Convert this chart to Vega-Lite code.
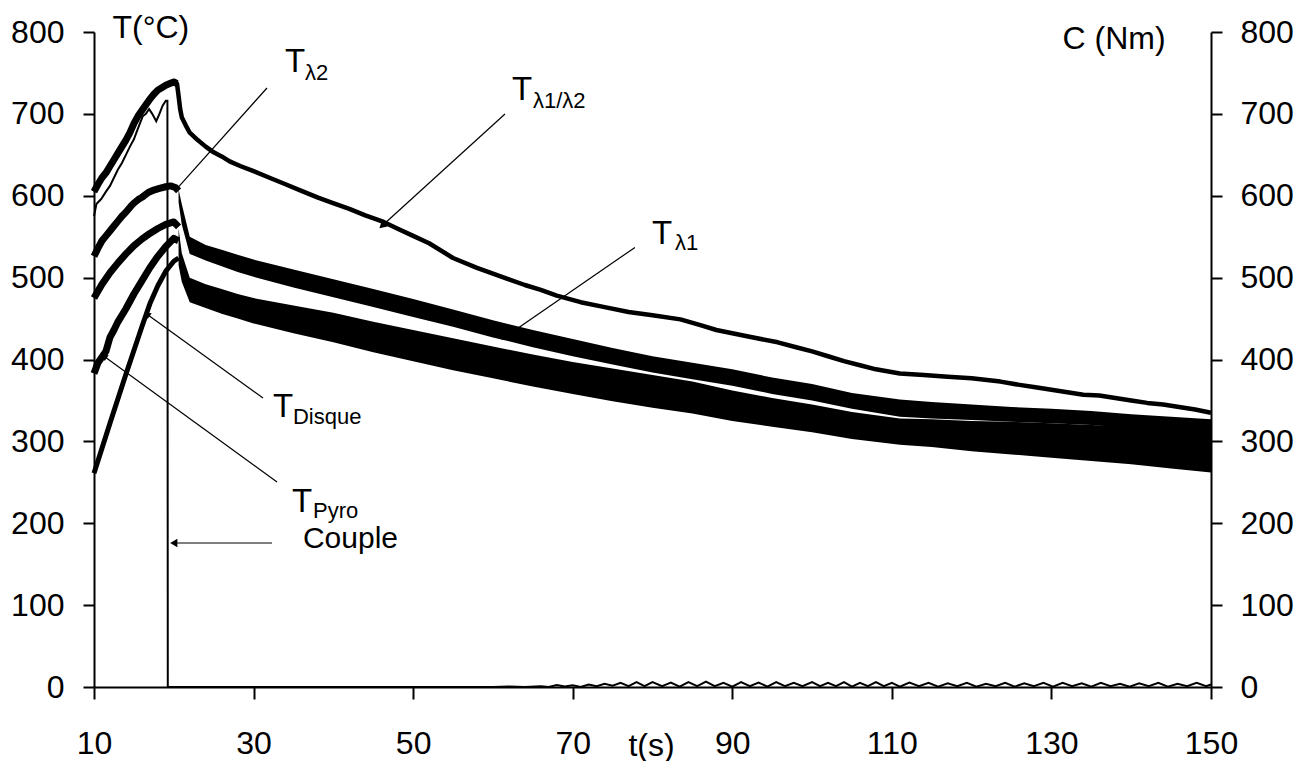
{
  "$schema": "https://vega.github.io/schema/vega-lite/v6.json",
  "width": 1117,
  "height": 655,
  "autosize": "none",
  "padding": {"left": 94, "top": 32, "right": 105, "bottom": 74},
  "background": "white",
  "config": {
    "view": {"stroke": null},
    "font": "Liberation Sans",
    "axis": {
      "labelFont": "Liberation Sans", "labelFontSize": 32, "labelColor": "black",
      "titleFont": "Liberation Sans", "titleFontSize": 32, "titleFontWeight": "normal", "titleColor": "black",
      "domainColor": "black", "domainWidth": 2, "tickColor": "black", "tickWidth": 2,
      "grid": false, "labelFlush": false, "labelOverlap": false
    }
  },
  "datasets": {
    "bands": [
      {"s": "Tl1", "t": 20.6, "lo": 592, "hi": 608},
      {"s": "Tl1", "t": 21, "lo": 565, "hi": 590},
      {"s": "Tl1", "t": 22, "lo": 529, "hi": 550},
      {"s": "Tl1", "t": 24, "lo": 521, "hi": 540},
      {"s": "Tl1", "t": 26, "lo": 514, "hi": 534},
      {"s": "Tl1", "t": 28, "lo": 507, "hi": 528},
      {"s": "Tl1", "t": 30, "lo": 501, "hi": 522},
      {"s": "Tl1", "t": 35, "lo": 488, "hi": 510},
      {"s": "Tl1", "t": 40, "lo": 476, "hi": 498},
      {"s": "Tl1", "t": 45, "lo": 464, "hi": 486},
      {"s": "Tl1", "t": 50, "lo": 452, "hi": 474},
      {"s": "Tl1", "t": 55, "lo": 440, "hi": 461},
      {"s": "Tl1", "t": 60, "lo": 427, "hi": 448},
      {"s": "Tl1", "t": 65, "lo": 415, "hi": 436},
      {"s": "Tl1", "t": 70, "lo": 404, "hi": 425},
      {"s": "Tl1", "t": 75, "lo": 394, "hi": 414},
      {"s": "Tl1", "t": 80, "lo": 384, "hi": 404},
      {"s": "Tl1", "t": 85, "lo": 376, "hi": 396},
      {"s": "Tl1", "t": 90, "lo": 368, "hi": 388},
      {"s": "Tl1", "t": 95, "lo": 358, "hi": 378},
      {"s": "Tl1", "t": 100, "lo": 350, "hi": 370},
      {"s": "Tl1", "t": 105, "lo": 340, "hi": 359},
      {"s": "Tl1", "t": 111, "lo": 330, "hi": 351},
      {"s": "Tl1", "t": 115, "lo": 328, "hi": 348},
      {"s": "Tl1", "t": 120, "lo": 326, "hi": 345},
      {"s": "Tl1", "t": 125, "lo": 324, "hi": 342},
      {"s": "Tl1", "t": 130, "lo": 322, "hi": 340},
      {"s": "Tl1", "t": 135, "lo": 320, "hi": 337},
      {"s": "Tl1", "t": 140, "lo": 316, "hi": 333},
      {"s": "Tl1", "t": 145, "lo": 314, "hi": 330},
      {"s": "Tl1", "t": 150, "lo": 310, "hi": 327},
      {"s": "low", "t": 20.6, "lo": 515, "hi": 560},
      {"s": "low", "t": 21, "lo": 495, "hi": 530},
      {"s": "low", "t": 22, "lo": 470, "hi": 500},
      {"s": "low", "t": 24, "lo": 463, "hi": 492},
      {"s": "low", "t": 26, "lo": 456, "hi": 486},
      {"s": "low", "t": 28, "lo": 450, "hi": 480},
      {"s": "low", "t": 30, "lo": 444, "hi": 475},
      {"s": "low", "t": 35, "lo": 432, "hi": 466},
      {"s": "low", "t": 40, "lo": 421, "hi": 457},
      {"s": "low", "t": 45, "lo": 409, "hi": 446},
      {"s": "low", "t": 50, "lo": 398, "hi": 436},
      {"s": "low", "t": 55, "lo": 387, "hi": 426},
      {"s": "low", "t": 60, "lo": 377, "hi": 416},
      {"s": "low", "t": 65, "lo": 367, "hi": 406},
      {"s": "low", "t": 70, "lo": 358, "hi": 397},
      {"s": "low", "t": 75, "lo": 349, "hi": 389},
      {"s": "low", "t": 80, "lo": 341, "hi": 381},
      {"s": "low", "t": 85, "lo": 334, "hi": 373},
      {"s": "low", "t": 90, "lo": 325, "hi": 362},
      {"s": "low", "t": 95, "lo": 318, "hi": 353},
      {"s": "low", "t": 100, "lo": 311, "hi": 345},
      {"s": "low", "t": 105, "lo": 303, "hi": 336},
      {"s": "low", "t": 111, "lo": 296, "hi": 328},
      {"s": "low", "t": 115, "lo": 293, "hi": 327},
      {"s": "low", "t": 120, "lo": 288, "hi": 325},
      {"s": "low", "t": 125, "lo": 284, "hi": 324},
      {"s": "low", "t": 130, "lo": 280, "hi": 322},
      {"s": "low", "t": 135, "lo": 276, "hi": 320},
      {"s": "low", "t": 140, "lo": 272, "hi": 318},
      {"s": "low", "t": 145, "lo": 267, "hi": 317},
      {"s": "low", "t": 150, "lo": 262, "hi": 315}
    ],
    "curves": [
      {"s": "Tl12", "t": 10, "T": 605}, {"s": "Tl12", "t": 10.5, "T": 614}, {"s": "Tl12", "t": 11, "T": 622},
      {"s": "Tl12", "t": 11.5, "T": 628}, {"s": "Tl12", "t": 12, "T": 636}, {"s": "Tl12", "t": 12.5, "T": 644},
      {"s": "Tl12", "t": 13, "T": 652}, {"s": "Tl12", "t": 13.5, "T": 660}, {"s": "Tl12", "t": 14, "T": 668},
      {"s": "Tl12", "t": 14.5, "T": 677}, {"s": "Tl12", "t": 15, "T": 688}, {"s": "Tl12", "t": 15.5, "T": 697},
      {"s": "Tl12", "t": 16, "T": 704}, {"s": "Tl12", "t": 16.5, "T": 711}, {"s": "Tl12", "t": 17, "T": 718},
      {"s": "Tl12", "t": 17.5, "T": 724}, {"s": "Tl12", "t": 18, "T": 729}, {"s": "Tl12", "t": 18.5, "T": 732},
      {"s": "Tl12", "t": 19, "T": 735}, {"s": "Tl12", "t": 19.5, "T": 737}, {"s": "Tl12", "t": 20, "T": 739},
      {"s": "Tl12", "t": 20.4, "T": 737}, {"s": "Tl12", "t": 20.6, "T": 722}, {"s": "Tl12", "t": 20.8, "T": 706},
      {"s": "Tl12", "t": 21, "T": 696}, {"s": "Tl12", "t": 21.5, "T": 686}, {"s": "Tl12", "t": 22, "T": 677},
      {"s": "Tl12", "t": 23, "T": 668}, {"s": "Tl12", "t": 24, "T": 660}, {"s": "Tl12", "t": 25, "T": 653},
      {"s": "Tl12", "t": 26, "T": 648}, {"s": "Tl12", "t": 27, "T": 642}, {"s": "Tl12", "t": 28.4, "T": 636},
      {"s": "Tl12", "t": 30, "T": 630}, {"s": "Tl12", "t": 32, "T": 622}, {"s": "Tl12", "t": 34, "T": 614},
      {"s": "Tl12", "t": 36, "T": 606}, {"s": "Tl12", "t": 38, "T": 598}, {"s": "Tl12", "t": 39.7, "T": 592},
      {"s": "Tl12", "t": 42, "T": 584}, {"s": "Tl12", "t": 44, "T": 576}, {"s": "Tl12", "t": 46.3, "T": 568},
      {"s": "Tl12", "t": 48, "T": 560}, {"s": "Tl12", "t": 50, "T": 551}, {"s": "Tl12", "t": 52, "T": 542},
      {"s": "Tl12", "t": 55, "T": 524}, {"s": "Tl12", "t": 58, "T": 512}, {"s": "Tl12", "t": 60, "T": 505},
      {"s": "Tl12", "t": 62, "T": 498}, {"s": "Tl12", "t": 64, "T": 491}, {"s": "Tl12", "t": 66, "T": 485},
      {"s": "Tl12", "t": 68, "T": 478}, {"s": "Tl12", "t": 71, "T": 470}, {"s": "Tl12", "t": 74, "T": 464},
      {"s": "Tl12", "t": 77, "T": 458}, {"s": "Tl12", "t": 80, "T": 454}, {"s": "Tl12", "t": 83.5, "T": 449},
      {"s": "Tl12", "t": 86, "T": 442}, {"s": "Tl12", "t": 88, "T": 436}, {"s": "Tl12", "t": 90, "T": 432},
      {"s": "Tl12", "t": 92, "T": 428}, {"s": "Tl12", "t": 95.7, "T": 421}, {"s": "Tl12", "t": 98, "T": 415},
      {"s": "Tl12", "t": 100, "T": 410}, {"s": "Tl12", "t": 102, "T": 404}, {"s": "Tl12", "t": 104, "T": 398},
      {"s": "Tl12", "t": 106, "T": 393}, {"s": "Tl12", "t": 108, "T": 388}, {"s": "Tl12", "t": 111, "T": 383},
      {"s": "Tl12", "t": 114, "T": 381}, {"s": "Tl12", "t": 117, "T": 379}, {"s": "Tl12", "t": 120, "T": 377},
      {"s": "Tl12", "t": 123.6, "T": 373}, {"s": "Tl12", "t": 126, "T": 369}, {"s": "Tl12", "t": 128, "T": 366},
      {"s": "Tl12", "t": 130, "T": 363}, {"s": "Tl12", "t": 132, "T": 360}, {"s": "Tl12", "t": 134, "T": 357},
      {"s": "Tl12", "t": 136, "T": 356}, {"s": "Tl12", "t": 138, "T": 353}, {"s": "Tl12", "t": 140, "T": 350},
      {"s": "Tl12", "t": 142, "T": 347}, {"s": "Tl12", "t": 144, "T": 345}, {"s": "Tl12", "t": 146, "T": 342},
      {"s": "Tl12", "t": 148, "T": 339}, {"s": "Tl12", "t": 150, "T": 335},
      {"s": "Tl2", "t": 10, "T": 526}, {"s": "Tl2", "t": 10.5, "T": 536}, {"s": "Tl2", "t": 11, "T": 545},
      {"s": "Tl2", "t": 11.5, "T": 551}, {"s": "Tl2", "t": 12, "T": 557}, {"s": "Tl2", "t": 12.5, "T": 563},
      {"s": "Tl2", "t": 13, "T": 569}, {"s": "Tl2", "t": 13.5, "T": 575}, {"s": "Tl2", "t": 14, "T": 580},
      {"s": "Tl2", "t": 14.6, "T": 587}, {"s": "Tl2", "t": 15, "T": 591}, {"s": "Tl2", "t": 15.5, "T": 595},
      {"s": "Tl2", "t": 16, "T": 598}, {"s": "Tl2", "t": 16.8, "T": 604}, {"s": "Tl2", "t": 17.5, "T": 607},
      {"s": "Tl2", "t": 18.2, "T": 609}, {"s": "Tl2", "t": 19, "T": 611}, {"s": "Tl2", "t": 19.6, "T": 612},
      {"s": "Tl2", "t": 20.2, "T": 610}, {"s": "Tl2", "t": 20.6, "T": 606},
      {"s": "Tmid", "t": 10, "T": 475}, {"s": "Tmid", "t": 11, "T": 492}, {"s": "Tmid", "t": 12, "T": 506},
      {"s": "Tmid", "t": 13, "T": 518}, {"s": "Tmid", "t": 14, "T": 529}, {"s": "Tmid", "t": 15, "T": 539},
      {"s": "Tmid", "t": 16, "T": 547}, {"s": "Tmid", "t": 17, "T": 554}, {"s": "Tmid", "t": 18, "T": 560},
      {"s": "Tmid", "t": 19, "T": 565}, {"s": "Tmid", "t": 20, "T": 568}, {"s": "Tmid", "t": 20.6, "T": 562},
      {"s": "Tpyro", "t": 10, "T": 383}, {"s": "Tpyro", "t": 10.5, "T": 396}, {"s": "Tpyro", "t": 11, "T": 403},
      {"s": "Tpyro", "t": 11.5, "T": 410}, {"s": "Tpyro", "t": 12, "T": 427}, {"s": "Tpyro", "t": 12.5, "T": 436},
      {"s": "Tpyro", "t": 13, "T": 446}, {"s": "Tpyro", "t": 14, "T": 462}, {"s": "Tpyro", "t": 15, "T": 480},
      {"s": "Tpyro", "t": 16, "T": 496}, {"s": "Tpyro", "t": 17, "T": 512}, {"s": "Tpyro", "t": 18, "T": 526},
      {"s": "Tpyro", "t": 19, "T": 538}, {"s": "Tpyro", "t": 20, "T": 548}, {"s": "Tpyro", "t": 20.6, "T": 545},
      {"s": "Tdisque", "t": 10, "T": 261}, {"s": "Tdisque", "t": 12, "T": 322}, {"s": "Tdisque", "t": 14, "T": 382},
      {"s": "Tdisque", "t": 16, "T": 440}, {"s": "Tdisque", "t": 17, "T": 468}, {"s": "Tdisque", "t": 18, "T": 490},
      {"s": "Tdisque", "t": 19, "T": 508}, {"s": "Tdisque", "t": 20, "T": 520}, {"s": "Tdisque", "t": 20.6, "T": 524}
    ],
    "couple": [
      {"t": 10, "C": 575}, {"t": 10.3, "C": 590}, {"t": 10.9, "C": 596}, {"t": 11.5, "C": 605},
      {"t": 12, "C": 612}, {"t": 12.5, "C": 622}, {"t": 13, "C": 632}, {"t": 13.5, "C": 640},
      {"t": 14, "C": 650}, {"t": 14.5, "C": 660}, {"t": 15, "C": 669}, {"t": 15.5, "C": 682},
      {"t": 16.1, "C": 697}, {"t": 16.5, "C": 700}, {"t": 16.9, "C": 706}, {"t": 17.3, "C": 700},
      {"t": 17.8, "C": 691}, {"t": 18.2, "C": 700}, {"t": 18.6, "C": 710}, {"t": 19, "C": 716},
      {"t": 19.2, "C": 716}, {"t": 19.25, "C": 0}, {"t": 40, "C": 0}, {"t": 60, "C": 0},
      {"t": 62, "C": 0.5}, {"t": 64, "C": 0}, {"t": 66, "C": 1}, {"t": 67, "C": 0}, {"t": 68, "C": 2.5},
      {"t": 69, "C": 0.5}, {"t": 70, "C": 2}, {"t": 71, "C": 0}, {"t": 72, "C": 3}, {"t": 73, "C": 1},
      {"t": 74, "C": 4}, {"t": 75, "C": 1.5}, {"t": 76, "C": 5}, {"t": 77, "C": 1}, {"t": 78, "C": 6},
      {"t": 79, "C": 1}, {"t": 80, "C": 6}, {"t": 81.2, "C": 1}, {"t": 82.3, "C": 5.5}, {"t": 83.4, "C": 0.5},
      {"t": 84.5, "C": 6}, {"t": 85.6, "C": 1}, {"t": 86.7, "C": 6.5}, {"t": 87.8, "C": 1}, {"t": 88.9, "C": 5},
      {"t": 90, "C": 0.5}, {"t": 91.1, "C": 6}, {"t": 92.2, "C": 1}, {"t": 93.3, "C": 5.5}, {"t": 94.4, "C": 0.5},
      {"t": 95.5, "C": 6}, {"t": 96.6, "C": 1}, {"t": 97.7, "C": 5}, {"t": 98.8, "C": 1}, {"t": 100, "C": 6},
      {"t": 101, "C": 1}, {"t": 102, "C": 5}, {"t": 103, "C": 1}, {"t": 104, "C": 6}, {"t": 105, "C": 0.5},
      {"t": 106, "C": 5}, {"t": 107, "C": 1}, {"t": 108, "C": 6}, {"t": 109, "C": 1}, {"t": 110, "C": 5},
      {"t": 111, "C": 0.5}, {"t": 112.2, "C": 5.5}, {"t": 113.4, "C": 1}, {"t": 114.6, "C": 5}, {"t": 115.8, "C": 0.5},
      {"t": 117, "C": 4.5}, {"t": 118.2, "C": 1}, {"t": 119.4, "C": 5}, {"t": 120.6, "C": 0.5}, {"t": 121.8, "C": 4},
      {"t": 123, "C": 1}, {"t": 124.2, "C": 5}, {"t": 125.4, "C": 0.5}, {"t": 126.6, "C": 4.5}, {"t": 127.8, "C": 1},
      {"t": 129, "C": 5}, {"t": 130.2, "C": 0.5}, {"t": 131.4, "C": 5}, {"t": 132.6, "C": 1}, {"t": 133.8, "C": 4.5},
      {"t": 135, "C": 0.5}, {"t": 136.2, "C": 5}, {"t": 137.4, "C": 1}, {"t": 138.6, "C": 4}, {"t": 139.8, "C": 0.5},
      {"t": 141, "C": 4.5}, {"t": 142.2, "C": 1}, {"t": 143.4, "C": 5}, {"t": 144.6, "C": 0.5}, {"t": 145.8, "C": 4},
      {"t": 147, "C": 1}, {"t": 148.2, "C": 5}, {"t": 149.4, "C": 1}, {"t": 150, "C": 3}
    ],
    "arrows": [
      {"name": "l2", "t1": 31.68, "T1": 731.6, "t2": 20.4, "T2": 608.7},
      {"name": "l12", "t1": 61.51, "T1": 699.8, "t2": 46.22, "T2": 564.3},
      {"name": "l1", "t1": 77.8, "T1": 536.9, "t2": 61.51, "T2": 427.5},
      {"name": "disque", "t1": 31.18, "T1": 353.0, "t2": 16.77, "T2": 454.4},
      {"name": "pyro", "t1": 32.94, "T1": 250.4, "t2": 11.38, "T2": 403.1},
      {"name": "couple", "t1": 32.31, "T1": 175.9, "t2": 20.15, "T2": 175.9}
    ],
    "bigtext": [
      {"t": 33.94, "T": 751.1, "label": "T"},
      {"t": 62.39, "T": 716.9, "label": "T"},
      {"t": 79.93, "T": 541.1, "label": "T"},
      {"t": 32.43, "T": 329.8, "label": "T"},
      {"t": 34.82, "T": 213.7, "label": "T"}
    ],
    "couplelabel": [
      {"t": 36.19, "T": 169.8, "label": "Couple"}
    ],
    "subtext": [
      {"t": 36.44, "T": 741.4, "label": "λ2"},
      {"t": 65.02, "T": 707.1, "label": "λ1/λ2"},
      {"t": 82.81, "T": 533.7, "label": "λ1"},
      {"t": 34.94, "T": 321.2, "label": "Disque"},
      {"t": 37.45, "T": 206.4, "label": "Pyro"}
    ]
  },
  "layer": [
    {
      "data": {"name": "bands"},
      "mark": {"type": "area", "color": "black"},
      "encoding": {
        "x": {"field": "t", "type": "quantitative",
          "scale": {"domain": [10, 150], "nice": false, "zero": false},
          "axis": {"orient": "bottom", "values": [10, 30, 50, 70, 90, 110, 130, 150], "tickSize": 12, "labelPadding": 29,
            "title": "t(s)", "titleX": 557, "titleY": 68, "titleAlign": "center", "titleBaseline": "alphabetic", "titleAngle": 0}},
        "y": {"field": "hi", "type": "quantitative",
          "scale": {"domain": [0, 800], "nice": false},
          "axis": {"orient": "left", "values": [0, 100, 200, 300, 400, 500, 600, 700, 800], "tickSize": 11, "labelPadding": 19,
            "title": "T(°C)", "titleX": 18, "titleY": 5, "titleAngle": 0, "titleAlign": "left", "titleBaseline": "alphabetic"}},
        "y2": {"field": "lo"},
        "detail": {"field": "s"}
      }
    },
    {
      "data": {"name": "curves"},
      "transform": [{"filter": "datum.s === 'Tl12'"}],
      "mark": {"type": "line", "color": "black", "strokeWidth": 4.5, "strokeJoin": "round"},
      "encoding": {
        "x": {"field": "t", "type": "quantitative", "axis": null},
        "y": {"field": "T", "type": "quantitative", "axis": null}
      }
    },
    {
      "data": {"name": "curves"},
      "transform": [{"filter": "datum.s === 'Tl12' && datum.t <= 20.4"}],
      "mark": {"type": "line", "color": "black", "strokeWidth": 7, "strokeJoin": "round"},
      "encoding": {
        "x": {"field": "t", "type": "quantitative", "axis": null},
        "y": {"field": "T", "type": "quantitative", "axis": null}
      }
    },
    {
      "data": {"name": "curves"},
      "transform": [{"filter": "datum.s === 'Tl2' || datum.s === 'Tmid' || datum.s === 'Tpyro'"}],
      "mark": {"type": "line", "color": "black", "strokeWidth": 7, "strokeJoin": "round"},
      "encoding": {
        "x": {"field": "t", "type": "quantitative", "axis": null},
        "y": {"field": "T", "type": "quantitative", "axis": null},
        "detail": {"field": "s"}
      }
    },
    {
      "data": {"name": "curves"},
      "transform": [{"filter": "datum.s === 'Tdisque'"}],
      "mark": {"type": "line", "color": "black", "strokeWidth": 5, "strokeJoin": "round"},
      "encoding": {
        "x": {"field": "t", "type": "quantitative", "axis": null},
        "y": {"field": "T", "type": "quantitative", "axis": null}
      }
    },
    {
      "data": {"name": "couple"},
      "mark": {"type": "line", "color": "black", "strokeWidth": 2},
      "encoding": {
        "x": {"field": "t", "type": "quantitative", "axis": null},
        "y": {"field": "C", "type": "quantitative",
          "axis": {"orient": "right", "values": [0, 100, 200, 300, 400, 500, 600, 700, 800], "tickSize": 11, "labelPadding": 18,
            "title": "C (Nm)", "titleX": -149, "titleY": 16, "titleAngle": 0, "titleAlign": "left", "titleBaseline": "alphabetic"}}
      }
    },
    {
      "data": {"name": "arrows"},
      "mark": {"type": "rule", "color": "black", "strokeWidth": 1.2},
      "encoding": {
        "x": {"field": "t1", "type": "quantitative", "axis": null},
        "y": {"field": "T1", "type": "quantitative", "axis": null},
        "x2": {"field": "t2"},
        "y2": {"field": "T2"}
      }
    },
    {
      "data": {"name": "arrows"},
      "transform": [{"filter": "datum.name === 'l12'"}],
      "mark": {"type": "point", "shape": "triangle", "filled": true, "color": "black", "opacity": 1, "size": 70, "angle": 228},
      "encoding": {"x": {"field": "t2", "type": "quantitative", "axis": null}, "y": {"field": "T2", "type": "quantitative", "axis": null}}
    },
    {
      "data": {"name": "arrows"},
      "transform": [{"filter": "datum.name === 'l1'"}],
      "mark": {"type": "point", "shape": "triangle", "filled": true, "color": "black", "opacity": 1, "size": 70, "angle": 239},
      "encoding": {"x": {"field": "t2", "type": "quantitative", "axis": null}, "y": {"field": "T2", "type": "quantitative", "axis": null}}
    },
    {
      "data": {"name": "arrows"},
      "transform": [{"filter": "datum.name === 'disque' || datum.name === 'pyro'"}],
      "mark": {"type": "point", "shape": "triangle", "filled": true, "color": "black", "opacity": 1, "size": 50, "angle": 305},
      "encoding": {"x": {"field": "t2", "type": "quantitative", "axis": null}, "y": {"field": "T2", "type": "quantitative", "axis": null}}
    },
    {
      "data": {"name": "arrows"},
      "transform": [{"filter": "datum.name === 'couple'"}],
      "mark": {"type": "point", "shape": "triangle", "filled": true, "color": "black", "opacity": 1, "size": 70, "angle": 270},
      "encoding": {"x": {"field": "t2", "type": "quantitative", "axis": null}, "y": {"field": "T2", "type": "quantitative", "axis": null}}
    },
    {
      "data": {"name": "bigtext"},
      "mark": {"type": "text", "font": "Liberation Sans", "fontSize": 33, "color": "black", "align": "left", "baseline": "alphabetic"},
      "encoding": {
        "x": {"field": "t", "type": "quantitative", "axis": null},
        "y": {"field": "T", "type": "quantitative", "axis": null},
        "text": {"field": "label"}
      }
    },
    {
      "data": {"name": "couplelabel"},
      "mark": {"type": "text", "font": "Liberation Sans", "fontSize": 30, "color": "black", "align": "left", "baseline": "alphabetic"},
      "encoding": {
        "x": {"field": "t", "type": "quantitative", "axis": null},
        "y": {"field": "T", "type": "quantitative", "axis": null},
        "text": {"field": "label"}
      }
    },
    {
      "data": {"name": "subtext"},
      "mark": {"type": "text", "font": "Liberation Sans", "fontSize": 22, "color": "black", "align": "left", "baseline": "alphabetic"},
      "encoding": {
        "x": {"field": "t", "type": "quantitative", "axis": null},
        "y": {"field": "T", "type": "quantitative", "axis": null},
        "text": {"field": "label"}
      }
    }
  ],
  "resolve": {"axis": {"x": "independent", "y": "independent"}}
}
